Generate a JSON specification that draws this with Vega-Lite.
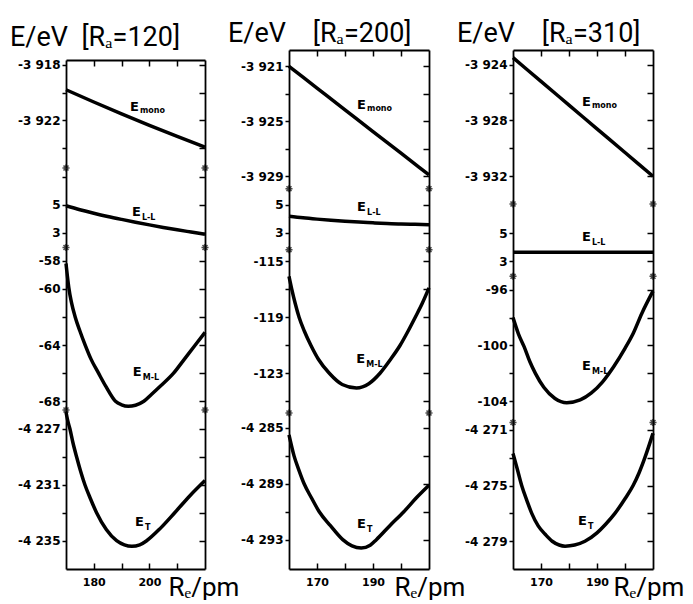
{
  "$schema": "https://vega.github.io/schema/vega-lite/v6.json",
  "background": "white",
  "padding": {"left": 10, "top": 20, "right": 0, "bottom": 0},
  "config": {
    "view": {"stroke": null},
    "axis": {"domainColor": "black", "domainWidth": 1.8, "tickColor": "black", "tickWidth": 1.5, "labelColor": "black", "labelFont": "DejaVu Sans", "labelFontSize": 12, "labelFontWeight": "bold", "grid": false},
    "axisLeft": {"tickSize": 4, "labelPadding": 2},
    "axisRight": {"tickSize": -6, "labels": false},
    "axisTop": {"tickSize": -6, "labels": false},
    "axisBottom": {"tickSize": -6, "labelPadding": 13, "labelFontSize": 11}
  },
  "datasets": {
    "one": [{}],
    "p1_mono": [{"R":170,"E":-3919.8},{"R":180,"E":-3920.68},{"R":190,"E":-3921.53},{"R":200,"E":-3922.36},{"R":210,"E":-3923.16},{"R":220,"E":-3923.93}],
    "p1_ll": [{"R":170,"E":4.93},{"R":175,"E":4.65},{"R":180,"E":4.4},{"R":185,"E":4.17},{"R":190,"E":3.96},{"R":195,"E":3.76},{"R":200,"E":3.57},{"R":205,"E":3.39},{"R":210,"E":3.22},{"R":215,"E":3.06},{"R":220,"E":2.9}],
    "p1_ml": [{"R":170,"E":-58.2},{"R":170.5,"E":-59.1},{"R":171,"E":-59.9},{"R":172,"E":-61},{"R":173.3,"E":-62},{"R":175,"E":-63},{"R":176.9,"E":-64},{"R":179,"E":-65},{"R":181.7,"E":-66},{"R":184.5,"E":-67},{"R":187.8,"E":-68},{"R":190,"E":-68.25},{"R":192.4,"E":-68.35},{"R":195,"E":-68.28},{"R":198,"E":-68},{"R":200.8,"E":-67.5},{"R":203.5,"E":-67},{"R":208.7,"E":-66},{"R":212.6,"E":-65},{"R":216.5,"E":-64},{"R":220,"E":-63.1}],
    "p1_t": [{"R":170,"E":-4225.8},{"R":170.6,"E":-4226.4},{"R":171.4,"E":-4227},{"R":172.5,"E":-4228},{"R":173.8,"E":-4229},{"R":175.2,"E":-4230},{"R":176.8,"E":-4231},{"R":178.8,"E":-4232},{"R":181,"E":-4233},{"R":184.5,"E":-4234.2},{"R":188.2,"E":-4235},{"R":191,"E":-4235.3},{"R":193.7,"E":-4235.4},{"R":196.5,"E":-4235.3},{"R":199,"E":-4235},{"R":204,"E":-4234.1},{"R":209.1,"E":-4233},{"R":214.5,"E":-4231.8},{"R":220,"E":-4230.7}],
    "p2_mono": [{"R":160,"E":-3921.0},{"R":170,"E":-3922.58},{"R":180,"E":-3924.16},{"R":190,"E":-3925.74},{"R":200,"E":-3927.32},{"R":210,"E":-3928.9}],
    "p2_ll": [{"R":160,"E":4.18},{"R":165,"E":4.07},{"R":170,"E":3.98},{"R":175,"E":3.9},{"R":180,"E":3.83},{"R":185,"E":3.77},{"R":190,"E":3.72},{"R":195,"E":3.67},{"R":200,"E":3.63},{"R":205,"E":3.61},{"R":210,"E":3.59}],
    "p2_ml": [{"R":160,"E":-116.07},{"R":161,"E":-117},{"R":162.2,"E":-118},{"R":163.6,"E":-119},{"R":165.5,"E":-120},{"R":167.8,"E":-121},{"R":170.5,"E":-122},{"R":174.4,"E":-123},{"R":179,"E":-123.8},{"R":184.1,"E":-124.05},{"R":188.5,"E":-123.75},{"R":192.5,"E":-123},{"R":196.3,"E":-122},{"R":199.7,"E":-121},{"R":202.5,"E":-120},{"R":205.1,"E":-119},{"R":207.6,"E":-118},{"R":210,"E":-116.9}],
    "p2_t": [{"R":160,"E":-4285.5},{"R":161.8,"E":-4287},{"R":163.5,"E":-4288},{"R":165.4,"E":-4289},{"R":168,"E":-4290},{"R":170.8,"E":-4291},{"R":174.8,"E":-4292},{"R":179.2,"E":-4293},{"R":182.5,"E":-4293.45},{"R":185.8,"E":-4293.6},{"R":189,"E":-4293.4},{"R":191.2,"E":-4293},{"R":196,"E":-4292},{"R":201,"E":-4291},{"R":205.5,"E":-4290},{"R":210,"E":-4289.1}],
    "p3_mono": [{"R":160,"E":-3923.5},{"R":170,"E":-3925.2},{"R":180,"E":-3926.9},{"R":190,"E":-3928.6},{"R":200,"E":-3930.3},{"R":210,"E":-3932.0}],
    "p3_ll": [{"R":160,"E":3.64},{"R":185,"E":3.64},{"R":210,"E":3.64}],
    "p3_ml": [{"R":160,"E":-98.0},{"R":162,"E":-99.2},{"R":164,"E":-100.1},{"R":166,"E":-101.15},{"R":168,"E":-102.0},{"R":171,"E":-103.0},{"R":175,"E":-103.8},{"R":179.2,"E":-104.1},{"R":184,"E":-103.9},{"R":188,"E":-103.4},{"R":192,"E":-102.6},{"R":196,"E":-101.5},{"R":200,"E":-100.2},{"R":203,"E":-99.1},{"R":206,"E":-97.7},{"R":210,"E":-96.1}],
    "p3_t": [{"R":160,"E":-4272.7},{"R":161.5,"E":-4273.8},{"R":163.1,"E":-4275.0},{"R":165,"E":-4276.1},{"R":166.7,"E":-4277.0},{"R":169,"E":-4277.9},{"R":171.5,"E":-4278.5},{"R":174,"E":-4279.0},{"R":176.5,"E":-4279.27},{"R":178.6,"E":-4279.35},{"R":182,"E":-4279.27},{"R":185.7,"E":-4279.0},{"R":190,"E":-4278.4},{"R":193,"E":-4277.8},{"R":196.4,"E":-4277.0},{"R":200,"E":-4275.95},{"R":202.9,"E":-4275.0},{"R":205,"E":-4274.1},{"R":207.1,"E":-4273.0},{"R":210,"E":-4271.25}]
  },
  "spacing": 84,
  "bounds": "flush",
  "hconcat": [
    {
      "width": 139, "height": 519,
      "title": {"text": "E/eV\u00a0\u00a0[R\u2090=120]", "anchor": "start", "frame": "group", "dx": -56, "dy": 3, "font": "Roboto", "fontSize": 27, "fontWeight": "normal", "color": "black", "baseline": "alphabetic", "offset": -20},
      "resolve": {"scale": {"x": "independent", "y": "independent"}},
      "layer": [
        {"data": {"name": "p1_mono"}, "mark": {"type": "line", "color": "black", "strokeWidth": 3.5, "interpolate": "monotone"},
         "encoding": {
           "x": {"field": "R", "type": "quantitative", "scale": {"domain": [170, 220], "nice": false, "zero": false}, "axis": {"orient": "top", "values": [180, 190, 200, 210], "labels": false, "tickSize": -6, "offset": -10, "title": null}},
           "y": {"field": "E", "type": "quantitative", "scale": {"domain": [-3925.43, -3917.66], "range": [118, 10], "nice": false, "zero": false}, "axis": {"orient": "left", "values": [-3918, -3920, -3922, -3924], "title": null, "labelExpr": "indexof([-3918,-3922], datum.value) >= 0 ? '-' + floor(abs(datum.value)/1000) + ' ' + substring(toString(abs(datum.value)), 1) : ''"}}}},
        {"data": {"name": "p1_mono"}, "mark": {"type": "point", "opacity": 0},
         "encoding": {
           "x": {"field": "R", "type": "quantitative", "scale": {"domain": [170, 220], "nice": false, "zero": false}, "axis": null},
           "y": {"field": "E", "type": "quantitative", "scale": {"domain": [-3925.43, -3917.66], "range": [118, 10], "nice": false, "zero": false}, "axis": {"orient": "right", "values": [-3918, -3920, -3922, -3924], "labels": false, "tickSize": -6, "title": null}}}},
        {"data": {"name": "one"}, "mark": {"type": "point", "shape": "M-1,0L1,0M0,-1L0,1M-0.7,-0.7L0.7,0.7M-0.7,0.7L0.7,-0.7", "size": 50, "filled": false, "stroke": "black", "strokeWidth": 1.6},
         "encoding": {"x": {"datum": 170, "type": "quantitative", "scale": {"domain": [170, 220], "nice": false, "zero": false}, "axis": null}, "y": {"datum": -3925.43, "type": "quantitative", "scale": {"domain": [-3925.43, -3917.66], "range": [118, 10], "nice": false, "zero": false}, "axis": null}}},
        {"data": {"name": "one"}, "mark": {"type": "point", "shape": "M-1,0L1,0M0,-1L0,1M-0.7,-0.7L0.7,0.7M-0.7,0.7L0.7,-0.7", "size": 50, "filled": false, "stroke": "black", "strokeWidth": 1.6},
         "encoding": {"x": {"datum": 220, "type": "quantitative", "scale": {"domain": [170, 220], "nice": false, "zero": false}, "axis": null}, "y": {"datum": -3925.43, "type": "quantitative", "scale": {"domain": [-3925.43, -3917.66], "range": [118, 10], "nice": false, "zero": false}, "axis": null}}},
        {"data": {"name": "one"}, "mark": {"type": "text", "text": "E", "font": "DejaVu Sans", "fontSize": 13, "fontWeight": "bold", "align": "left", "baseline": "alphabetic"},
         "encoding": {"x": {"datum": 193, "type": "quantitative", "scale": {"domain": [170, 220], "nice": false, "zero": false}, "axis": null}, "y": {"datum": -3921.3, "type": "quantitative", "scale": {"domain": [-3925.43, -3917.66], "range": [118, 10], "nice": false, "zero": false}, "axis": null}}},
        {"data": {"name": "one"}, "mark": {"type": "text", "text": "mono", "font": "DejaVu Sans", "fontSize": 8, "fontWeight": "bold", "align": "left", "baseline": "alphabetic", "dx": 10, "dy": 2},
         "encoding": {"x": {"datum": 193, "type": "quantitative", "scale": {"domain": [170, 220], "nice": false, "zero": false}, "axis": null}, "y": {"datum": -3921.3, "type": "quantitative", "scale": {"domain": [-3925.43, -3917.66], "range": [118, 10], "nice": false, "zero": false}, "axis": null}}},

        {"data": {"name": "p1_ll"}, "mark": {"type": "line", "color": "black", "strokeWidth": 3.5, "interpolate": "monotone"},
         "encoding": {
           "x": {"field": "R", "type": "quantitative", "scale": {"domain": [170, 220], "nice": false, "zero": false}, "axis": null},
           "y": {"field": "E", "type": "quantitative", "scale": {"domain": [1.96, 7.62], "range": [197.5, 118], "nice": false, "zero": false}, "axis": {"orient": "left", "values": [3, 5, 7], "title": null, "labelExpr": "indexof([3,5], datum.value) >= 0 ? toString(datum.value) : ''"}}}},
        {"data": {"name": "p1_ll"}, "mark": {"type": "point", "opacity": 0},
         "encoding": {
           "x": {"field": "R", "type": "quantitative", "scale": {"domain": [170, 220], "nice": false, "zero": false}, "axis": null},
           "y": {"field": "E", "type": "quantitative", "scale": {"domain": [1.96, 7.62], "range": [197.5, 118], "nice": false, "zero": false}, "axis": {"orient": "right", "values": [3, 5, 7], "labels": false, "tickSize": -6, "title": null}}}},
        {"data": {"name": "one"}, "mark": {"type": "point", "shape": "M-1,0L1,0M0,-1L0,1M-0.7,-0.7L0.7,0.7M-0.7,0.7L0.7,-0.7", "size": 50, "filled": false, "stroke": "black", "strokeWidth": 1.6},
         "encoding": {"x": {"datum": 170, "type": "quantitative", "scale": {"domain": [170, 220], "nice": false, "zero": false}, "axis": null}, "y": {"datum": 1.96, "type": "quantitative", "scale": {"domain": [1.96, 7.62], "range": [197.5, 118], "nice": false, "zero": false}, "axis": null}}},
        {"data": {"name": "one"}, "mark": {"type": "point", "shape": "M-1,0L1,0M0,-1L0,1M-0.7,-0.7L0.7,0.7M-0.7,0.7L0.7,-0.7", "size": 50, "filled": false, "stroke": "black", "strokeWidth": 1.6},
         "encoding": {"x": {"datum": 220, "type": "quantitative", "scale": {"domain": [170, 220], "nice": false, "zero": false}, "axis": null}, "y": {"datum": 1.96, "type": "quantitative", "scale": {"domain": [1.96, 7.62], "range": [197.5, 118], "nice": false, "zero": false}, "axis": null}}},
        {"data": {"name": "one"}, "mark": {"type": "text", "text": "E", "font": "DejaVu Sans", "fontSize": 13, "fontWeight": "bold", "align": "left", "baseline": "alphabetic"},
         "encoding": {"x": {"datum": 193.7, "type": "quantitative", "scale": {"domain": [170, 220], "nice": false, "zero": false}, "axis": null}, "y": {"datum": 4.2, "type": "quantitative", "scale": {"domain": [1.96, 7.62], "range": [197.5, 118], "nice": false, "zero": false}, "axis": null}}},
        {"data": {"name": "one"}, "mark": {"type": "text", "text": "L-L", "font": "DejaVu Sans", "fontSize": 8, "fontWeight": "bold", "align": "left", "baseline": "alphabetic", "dx": 10, "dy": 4},
         "encoding": {"x": {"datum": 193.7, "type": "quantitative", "scale": {"domain": [170, 220], "nice": false, "zero": false}, "axis": null}, "y": {"datum": 4.2, "type": "quantitative", "scale": {"domain": [1.96, 7.62], "range": [197.5, 118], "nice": false, "zero": false}, "axis": null}}},

        {"data": {"name": "p1_ml"}, "mark": {"type": "line", "color": "black", "strokeWidth": 3.5, "interpolate": "monotone"},
         "encoding": {
           "x": {"field": "R", "type": "quantitative", "scale": {"domain": [170, 220], "nice": false, "zero": false}, "axis": null},
           "y": {"field": "E", "type": "quantitative", "scale": {"domain": [-68.62, -57.06], "range": [360, 197.5], "nice": false, "zero": false}, "axis": {"orient": "left", "values": [-58, -60, -62, -64, -66, -68], "title": null, "labelExpr": "indexof([-58,-60,-64,-68], datum.value) >= 0 ? toString(datum.value) : ''"}}}},
        {"data": {"name": "p1_ml"}, "mark": {"type": "point", "opacity": 0},
         "encoding": {
           "x": {"field": "R", "type": "quantitative", "scale": {"domain": [170, 220], "nice": false, "zero": false}, "axis": null},
           "y": {"field": "E", "type": "quantitative", "scale": {"domain": [-68.62, -57.06], "range": [360, 197.5], "nice": false, "zero": false}, "axis": {"orient": "right", "values": [-58, -60, -62, -64, -66, -68], "labels": false, "tickSize": -6, "title": null}}}},
        {"data": {"name": "one"}, "mark": {"type": "point", "shape": "M-1,0L1,0M0,-1L0,1M-0.7,-0.7L0.7,0.7M-0.7,0.7L0.7,-0.7", "size": 50, "filled": false, "stroke": "black", "strokeWidth": 1.6},
         "encoding": {"x": {"datum": 170, "type": "quantitative", "scale": {"domain": [170, 220], "nice": false, "zero": false}, "axis": null}, "y": {"datum": -68.62, "type": "quantitative", "scale": {"domain": [-68.62, -57.06], "range": [360, 197.5], "nice": false, "zero": false}, "axis": null}}},
        {"data": {"name": "one"}, "mark": {"type": "point", "shape": "M-1,0L1,0M0,-1L0,1M-0.7,-0.7L0.7,0.7M-0.7,0.7L0.7,-0.7", "size": 50, "filled": false, "stroke": "black", "strokeWidth": 1.6},
         "encoding": {"x": {"datum": 220, "type": "quantitative", "scale": {"domain": [170, 220], "nice": false, "zero": false}, "axis": null}, "y": {"datum": -68.62, "type": "quantitative", "scale": {"domain": [-68.62, -57.06], "range": [360, 197.5], "nice": false, "zero": false}, "axis": null}}},
        {"data": {"name": "one"}, "mark": {"type": "text", "text": "E", "font": "DejaVu Sans", "fontSize": 13, "fontWeight": "bold", "align": "left", "baseline": "alphabetic"},
         "encoding": {"x": {"datum": 194, "type": "quantitative", "scale": {"domain": [170, 220], "nice": false, "zero": false}, "axis": null}, "y": {"datum": -66.2, "type": "quantitative", "scale": {"domain": [-68.62, -57.06], "range": [360, 197.5], "nice": false, "zero": false}, "axis": null}}},
        {"data": {"name": "one"}, "mark": {"type": "text", "text": "M-L", "font": "DejaVu Sans", "fontSize": 8, "fontWeight": "bold", "align": "left", "baseline": "alphabetic", "dx": 10, "dy": 4},
         "encoding": {"x": {"datum": 194, "type": "quantitative", "scale": {"domain": [170, 220], "nice": false, "zero": false}, "axis": null}, "y": {"datum": -66.2, "type": "quantitative", "scale": {"domain": [-68.62, -57.06], "range": [360, 197.5], "nice": false, "zero": false}, "axis": null}}},

        {"data": {"name": "p1_t"}, "mark": {"type": "line", "color": "black", "strokeWidth": 3.5, "interpolate": "monotone"},
         "encoding": {
           "x": {"field": "R", "type": "quantitative", "scale": {"domain": [170, 220], "nice": false, "zero": false}, "axis": {"orient": "bottom", "values": [180, 190, 200, 210], "tickSize": -6, "labelExpr": "indexof([180,200], datum.value) >= 0 ? toString(datum.value) : ''", "title": "R\u2091/pm", "titleX": 102, "titleY": 26, "titleAlign": "left", "titleBaseline": "alphabetic", "titleFont": "Roboto", "titleFontSize": 26, "titleFontWeight": "normal", "titleColor": "black"}},
           "y": {"field": "E", "type": "quantitative", "scale": {"domain": [-4237.02, -4225.66], "range": [519, 360], "nice": false, "zero": false}, "axis": {"orient": "left", "values": [-4227, -4229, -4231, -4233, -4235], "title": null, "labelExpr": "indexof([-4227,-4231,-4235], datum.value) >= 0 ? '-' + floor(abs(datum.value)/1000) + ' ' + substring(toString(abs(datum.value)), 1) : ''"}}}},
        {"data": {"name": "p1_t"}, "mark": {"type": "point", "opacity": 0},
         "encoding": {
           "x": {"field": "R", "type": "quantitative", "scale": {"domain": [170, 220], "nice": false, "zero": false}, "axis": null},
           "y": {"field": "E", "type": "quantitative", "scale": {"domain": [-4237.02, -4225.66], "range": [519, 360], "nice": false, "zero": false}, "axis": {"orient": "right", "values": [-4227, -4229, -4231, -4233, -4235], "labels": false, "tickSize": -6, "title": null}}}},
        {"data": {"name": "one"}, "mark": {"type": "text", "text": "E", "font": "DejaVu Sans", "fontSize": 13, "fontWeight": "bold", "align": "left", "baseline": "alphabetic"},
         "encoding": {"x": {"datum": 194.8, "type": "quantitative", "scale": {"domain": [170, 220], "nice": false, "zero": false}, "axis": null}, "y": {"datum": -4233.95, "type": "quantitative", "scale": {"domain": [-4237.02, -4225.66], "range": [519, 360], "nice": false, "zero": false}, "axis": null}}},
        {"data": {"name": "one"}, "mark": {"type": "text", "text": "T", "font": "DejaVu Sans", "fontSize": 8, "fontWeight": "bold", "align": "left", "baseline": "alphabetic", "dx": 10, "dy": 4},
         "encoding": {"x": {"datum": 194.8, "type": "quantitative", "scale": {"domain": [170, 220], "nice": false, "zero": false}, "axis": null}, "y": {"datum": -4233.95, "type": "quantitative", "scale": {"domain": [-4237.02, -4225.66], "range": [519, 360], "nice": false, "zero": false}, "axis": null}}}
      ]
    },
    {
      "width": 140, "height": 519,
      "title": {"text": "E/eV\u00a0\u00a0\u00a0\u00a0[R\u2090=200]", "anchor": "start", "frame": "group", "dx": -61, "font": "Roboto", "fontSize": 27, "fontWeight": "normal", "color": "black", "baseline": "alphabetic", "offset": -20},
      "resolve": {"scale": {"x": "independent", "y": "independent"}},
      "layer": [
        {"data": {"name": "p2_mono"}, "mark": {"type": "line", "color": "black", "strokeWidth": 3.5, "interpolate": "monotone"},
         "encoding": {
           "x": {"field": "R", "type": "quantitative", "scale": {"domain": [160, 210], "nice": false, "zero": false}, "axis": {"orient": "top", "values": [170, 180, 190, 200], "labels": false, "tickSize": -6, "title": null}},
           "y": {"field": "E", "type": "quantitative", "scale": {"domain": [-3929.9, -3919.81], "range": [138.7, 0], "nice": false, "zero": false}, "axis": {"orient": "left", "values": [-3921, -3923, -3925, -3927, -3929], "title": null, "labelExpr": "indexof([-3921,-3925,-3929], datum.value) >= 0 ? '-' + floor(abs(datum.value)/1000) + ' ' + substring(toString(abs(datum.value)), 1) : ''"}}}},
        {"data": {"name": "p2_mono"}, "mark": {"type": "point", "opacity": 0},
         "encoding": {
           "x": {"field": "R", "type": "quantitative", "scale": {"domain": [160, 210], "nice": false, "zero": false}, "axis": null},
           "y": {"field": "E", "type": "quantitative", "scale": {"domain": [-3929.9, -3919.81], "range": [138.7, 0], "nice": false, "zero": false}, "axis": {"orient": "right", "values": [-3921, -3923, -3925, -3927, -3929], "labels": false, "tickSize": -6, "title": null}}}},
        {"data": {"name": "one"}, "mark": {"type": "point", "shape": "M-1,0L1,0M0,-1L0,1M-0.7,-0.7L0.7,0.7M-0.7,0.7L0.7,-0.7", "size": 50, "filled": false, "stroke": "black", "strokeWidth": 1.6},
         "encoding": {"x": {"datum": 160, "type": "quantitative", "scale": {"domain": [160, 210], "nice": false, "zero": false}, "axis": null}, "y": {"datum": -3929.9, "type": "quantitative", "scale": {"domain": [-3929.9, -3919.81], "range": [138.7, 0], "nice": false, "zero": false}, "axis": null}}},
        {"data": {"name": "one"}, "mark": {"type": "point", "shape": "M-1,0L1,0M0,-1L0,1M-0.7,-0.7L0.7,0.7M-0.7,0.7L0.7,-0.7", "size": 50, "filled": false, "stroke": "black", "strokeWidth": 1.6},
         "encoding": {"x": {"datum": 210, "type": "quantitative", "scale": {"domain": [160, 210], "nice": false, "zero": false}, "axis": null}, "y": {"datum": -3929.9, "type": "quantitative", "scale": {"domain": [-3929.9, -3919.81], "range": [138.7, 0], "nice": false, "zero": false}, "axis": null}}},
        {"data": {"name": "one"}, "mark": {"type": "text", "text": "E", "font": "DejaVu Sans", "fontSize": 13, "fontWeight": "bold", "align": "left", "baseline": "alphabetic"},
         "encoding": {"x": {"datum": 184.3, "type": "quantitative", "scale": {"domain": [160, 210], "nice": false, "zero": false}, "axis": null}, "y": {"datum": -3924.1, "type": "quantitative", "scale": {"domain": [-3929.9, -3919.81], "range": [138.7, 0], "nice": false, "zero": false}, "axis": null}}},
        {"data": {"name": "one"}, "mark": {"type": "text", "text": "mono", "font": "DejaVu Sans", "fontSize": 8, "fontWeight": "bold", "align": "left", "baseline": "alphabetic", "dx": 10, "dy": 2},
         "encoding": {"x": {"datum": 184.3, "type": "quantitative", "scale": {"domain": [160, 210], "nice": false, "zero": false}, "axis": null}, "y": {"datum": -3924.1, "type": "quantitative", "scale": {"domain": [-3929.9, -3919.81], "range": [138.7, 0], "nice": false, "zero": false}, "axis": null}}},

        {"data": {"name": "p2_ll"}, "mark": {"type": "line", "color": "black", "strokeWidth": 3.5, "interpolate": "monotone"},
         "encoding": {
           "x": {"field": "R", "type": "quantitative", "scale": {"domain": [160, 210], "nice": false, "zero": false}, "axis": null},
           "y": {"field": "E", "type": "quantitative", "scale": {"domain": [1.82, 6.13], "range": [199.7, 138.7], "nice": false, "zero": false}, "axis": {"orient": "left", "values": [3, 5], "title": null}}}},
        {"data": {"name": "p2_ll"}, "mark": {"type": "point", "opacity": 0},
         "encoding": {
           "x": {"field": "R", "type": "quantitative", "scale": {"domain": [160, 210], "nice": false, "zero": false}, "axis": null},
           "y": {"field": "E", "type": "quantitative", "scale": {"domain": [1.82, 6.13], "range": [199.7, 138.7], "nice": false, "zero": false}, "axis": {"orient": "right", "values": [3, 5], "labels": false, "tickSize": -6, "title": null}}}},
        {"data": {"name": "one"}, "mark": {"type": "point", "shape": "M-1,0L1,0M0,-1L0,1M-0.7,-0.7L0.7,0.7M-0.7,0.7L0.7,-0.7", "size": 50, "filled": false, "stroke": "black", "strokeWidth": 1.6},
         "encoding": {"x": {"datum": 160, "type": "quantitative", "scale": {"domain": [160, 210], "nice": false, "zero": false}, "axis": null}, "y": {"datum": 1.82, "type": "quantitative", "scale": {"domain": [1.82, 6.13], "range": [199.7, 138.7], "nice": false, "zero": false}, "axis": null}}},
        {"data": {"name": "one"}, "mark": {"type": "point", "shape": "M-1,0L1,0M0,-1L0,1M-0.7,-0.7L0.7,0.7M-0.7,0.7L0.7,-0.7", "size": 50, "filled": false, "stroke": "black", "strokeWidth": 1.6},
         "encoding": {"x": {"datum": 210, "type": "quantitative", "scale": {"domain": [160, 210], "nice": false, "zero": false}, "axis": null}, "y": {"datum": 1.82, "type": "quantitative", "scale": {"domain": [1.82, 6.13], "range": [199.7, 138.7], "nice": false, "zero": false}, "axis": null}}},
        {"data": {"name": "one"}, "mark": {"type": "text", "text": "E", "font": "DejaVu Sans", "fontSize": 13, "fontWeight": "bold", "align": "left", "baseline": "alphabetic"},
         "encoding": {"x": {"datum": 184.3, "type": "quantitative", "scale": {"domain": [160, 210], "nice": false, "zero": false}, "axis": null}, "y": {"datum": 4.55, "type": "quantitative", "scale": {"domain": [1.82, 6.13], "range": [199.7, 138.7], "nice": false, "zero": false}, "axis": null}}},
        {"data": {"name": "one"}, "mark": {"type": "text", "text": "L-L", "font": "DejaVu Sans", "fontSize": 8, "fontWeight": "bold", "align": "left", "baseline": "alphabetic", "dx": 10, "dy": 4},
         "encoding": {"x": {"datum": 184.3, "type": "quantitative", "scale": {"domain": [160, 210], "nice": false, "zero": false}, "axis": null}, "y": {"datum": 4.55, "type": "quantitative", "scale": {"domain": [1.82, 6.13], "range": [199.7, 138.7], "nice": false, "zero": false}, "axis": null}}},

        {"data": {"name": "p2_ml"}, "mark": {"type": "line", "color": "black", "strokeWidth": 3.5, "interpolate": "monotone"},
         "encoding": {
           "x": {"field": "R", "type": "quantitative", "scale": {"domain": [160, 210], "nice": false, "zero": false}, "axis": null},
           "y": {"field": "E", "type": "quantitative", "scale": {"domain": [-125.84, -114.17], "range": [363, 199.7], "nice": false, "zero": false}, "axis": {"orient": "left", "values": [-115, -117, -119, -121, -123, -125], "title": null, "labelExpr": "indexof([-115,-119,-123], datum.value) >= 0 ? toString(datum.value) : ''"}}}},
        {"data": {"name": "p2_ml"}, "mark": {"type": "point", "opacity": 0},
         "encoding": {
           "x": {"field": "R", "type": "quantitative", "scale": {"domain": [160, 210], "nice": false, "zero": false}, "axis": null},
           "y": {"field": "E", "type": "quantitative", "scale": {"domain": [-125.84, -114.17], "range": [363, 199.7], "nice": false, "zero": false}, "axis": {"orient": "right", "values": [-115, -117, -119, -121, -123, -125], "labels": false, "tickSize": -6, "title": null}}}},
        {"data": {"name": "one"}, "mark": {"type": "point", "shape": "M-1,0L1,0M0,-1L0,1M-0.7,-0.7L0.7,0.7M-0.7,0.7L0.7,-0.7", "size": 50, "filled": false, "stroke": "black", "strokeWidth": 1.6},
         "encoding": {"x": {"datum": 160, "type": "quantitative", "scale": {"domain": [160, 210], "nice": false, "zero": false}, "axis": null}, "y": {"datum": -125.84, "type": "quantitative", "scale": {"domain": [-125.84, -114.17], "range": [363, 199.7], "nice": false, "zero": false}, "axis": null}}},
        {"data": {"name": "one"}, "mark": {"type": "point", "shape": "M-1,0L1,0M0,-1L0,1M-0.7,-0.7L0.7,0.7M-0.7,0.7L0.7,-0.7", "size": 50, "filled": false, "stroke": "black", "strokeWidth": 1.6},
         "encoding": {"x": {"datum": 210, "type": "quantitative", "scale": {"domain": [160, 210], "nice": false, "zero": false}, "axis": null}, "y": {"datum": -125.84, "type": "quantitative", "scale": {"domain": [-125.84, -114.17], "range": [363, 199.7], "nice": false, "zero": false}, "axis": null}}},
        {"data": {"name": "one"}, "mark": {"type": "text", "text": "E", "font": "DejaVu Sans", "fontSize": 13, "fontWeight": "bold", "align": "left", "baseline": "alphabetic"},
         "encoding": {"x": {"datum": 184, "type": "quantitative", "scale": {"domain": [160, 210], "nice": false, "zero": false}, "axis": null}, "y": {"datum": -122.26, "type": "quantitative", "scale": {"domain": [-125.84, -114.17], "range": [363, 199.7], "nice": false, "zero": false}, "axis": null}}},
        {"data": {"name": "one"}, "mark": {"type": "text", "text": "M-L", "font": "DejaVu Sans", "fontSize": 8, "fontWeight": "bold", "align": "left", "baseline": "alphabetic", "dx": 10, "dy": 4},
         "encoding": {"x": {"datum": 184, "type": "quantitative", "scale": {"domain": [160, 210], "nice": false, "zero": false}, "axis": null}, "y": {"datum": -122.26, "type": "quantitative", "scale": {"domain": [-125.84, -114.17], "range": [363, 199.7], "nice": false, "zero": false}, "axis": null}}},

        {"data": {"name": "p2_t"}, "mark": {"type": "line", "color": "black", "strokeWidth": 3.5, "interpolate": "monotone"},
         "encoding": {
           "x": {"field": "R", "type": "quantitative", "scale": {"domain": [160, 210], "nice": false, "zero": false}, "axis": {"orient": "bottom", "values": [170, 180, 190, 200], "tickSize": -6, "labelExpr": "indexof([170,190], datum.value) >= 0 ? toString(datum.value) : ''", "title": "R\u2091/pm", "titleX": 105, "titleY": 26, "titleAlign": "left", "titleBaseline": "alphabetic", "titleFont": "Roboto", "titleFontSize": 26, "titleFontWeight": "normal", "titleColor": "black"}},
           "y": {"field": "E", "type": "quantitative", "scale": {"domain": [-4295.1, -4283.93], "range": [519, 363], "nice": false, "zero": false}, "axis": {"orient": "left", "values": [-4285, -4287, -4289, -4291, -4293], "title": null, "labelExpr": "indexof([-4285,-4289,-4293], datum.value) >= 0 ? '-' + floor(abs(datum.value)/1000) + ' ' + substring(toString(abs(datum.value)), 1) : ''"}}}},
        {"data": {"name": "p2_t"}, "mark": {"type": "point", "opacity": 0},
         "encoding": {
           "x": {"field": "R", "type": "quantitative", "scale": {"domain": [160, 210], "nice": false, "zero": false}, "axis": null},
           "y": {"field": "E", "type": "quantitative", "scale": {"domain": [-4295.1, -4283.93], "range": [519, 363], "nice": false, "zero": false}, "axis": {"orient": "right", "values": [-4285, -4287, -4289, -4291, -4293], "labels": false, "tickSize": -6, "title": null}}}},
        {"data": {"name": "one"}, "mark": {"type": "text", "text": "E", "font": "DejaVu Sans", "fontSize": 13, "fontWeight": "bold", "align": "left", "baseline": "alphabetic"},
         "encoding": {"x": {"datum": 184.3, "type": "quantitative", "scale": {"domain": [160, 210], "nice": false, "zero": false}, "axis": null}, "y": {"datum": -4292.16, "type": "quantitative", "scale": {"domain": [-4295.1, -4283.93], "range": [519, 363], "nice": false, "zero": false}, "axis": null}}},
        {"data": {"name": "one"}, "mark": {"type": "text", "text": "T", "font": "DejaVu Sans", "fontSize": 8, "fontWeight": "bold", "align": "left", "baseline": "alphabetic", "dx": 10, "dy": 4},
         "encoding": {"x": {"datum": 184.3, "type": "quantitative", "scale": {"domain": [160, 210], "nice": false, "zero": false}, "axis": null}, "y": {"datum": -4292.16, "type": "quantitative", "scale": {"domain": [-4295.1, -4283.93], "range": [519, 363], "nice": false, "zero": false}, "axis": null}}}
      ]
    },
    {
      "width": 140, "height": 519,
      "title": {"text": "E/eV\u00a0\u00a0\u00a0\u00a0[R\u2090=310]", "anchor": "start", "frame": "group", "dx": -56, "font": "Roboto", "fontSize": 27, "fontWeight": "normal", "color": "black", "baseline": "alphabetic", "offset": -20},
      "resolve": {"scale": {"x": "independent", "y": "independent"}},
      "layer": [
        {"data": {"name": "p3_mono"}, "mark": {"type": "line", "color": "black", "strokeWidth": 3.5, "interpolate": "monotone"},
         "encoding": {
           "x": {"field": "R", "type": "quantitative", "scale": {"domain": [160, 210], "nice": false, "zero": false}, "axis": {"orient": "top", "values": [170, 180, 190, 200], "labels": false, "tickSize": -6, "title": null}},
           "y": {"field": "E", "type": "quantitative", "scale": {"domain": [-3933.99, -3922.95], "range": [154, 0], "nice": false, "zero": false}, "axis": {"orient": "left", "values": [-3924, -3926, -3928, -3930, -3932], "title": null, "labelExpr": "indexof([-3924,-3928,-3932], datum.value) >= 0 ? '-' + floor(abs(datum.value)/1000) + ' ' + substring(toString(abs(datum.value)), 1) : ''"}}}},
        {"data": {"name": "p3_mono"}, "mark": {"type": "point", "opacity": 0},
         "encoding": {
           "x": {"field": "R", "type": "quantitative", "scale": {"domain": [160, 210], "nice": false, "zero": false}, "axis": null},
           "y": {"field": "E", "type": "quantitative", "scale": {"domain": [-3933.99, -3922.95], "range": [154, 0], "nice": false, "zero": false}, "axis": {"orient": "right", "values": [-3924, -3926, -3928, -3930, -3932], "labels": false, "tickSize": -6, "title": null}}}},
        {"data": {"name": "one"}, "mark": {"type": "point", "shape": "M-1,0L1,0M0,-1L0,1M-0.7,-0.7L0.7,0.7M-0.7,0.7L0.7,-0.7", "size": 50, "filled": false, "stroke": "black", "strokeWidth": 1.6},
         "encoding": {"x": {"datum": 160, "type": "quantitative", "scale": {"domain": [160, 210], "nice": false, "zero": false}, "axis": null}, "y": {"datum": -3933.99, "type": "quantitative", "scale": {"domain": [-3933.99, -3922.95], "range": [154, 0], "nice": false, "zero": false}, "axis": null}}},
        {"data": {"name": "one"}, "mark": {"type": "point", "shape": "M-1,0L1,0M0,-1L0,1M-0.7,-0.7L0.7,0.7M-0.7,0.7L0.7,-0.7", "size": 50, "filled": false, "stroke": "black", "strokeWidth": 1.6},
         "encoding": {"x": {"datum": 210, "type": "quantitative", "scale": {"domain": [160, 210], "nice": false, "zero": false}, "axis": null}, "y": {"datum": -3933.99, "type": "quantitative", "scale": {"domain": [-3933.99, -3922.95], "range": [154, 0], "nice": false, "zero": false}, "axis": null}}},
        {"data": {"name": "one"}, "mark": {"type": "text", "text": "E", "font": "DejaVu Sans", "fontSize": 13, "fontWeight": "bold", "align": "left", "baseline": "alphabetic"},
         "encoding": {"x": {"datum": 184.6, "type": "quantitative", "scale": {"domain": [160, 210], "nice": false, "zero": false}, "axis": null}, "y": {"datum": -3926.96, "type": "quantitative", "scale": {"domain": [-3933.99, -3922.95], "range": [154, 0], "nice": false, "zero": false}, "axis": null}}},
        {"data": {"name": "one"}, "mark": {"type": "text", "text": "mono", "font": "DejaVu Sans", "fontSize": 8, "fontWeight": "bold", "align": "left", "baseline": "alphabetic", "dx": 10, "dy": 2},
         "encoding": {"x": {"datum": 184.6, "type": "quantitative", "scale": {"domain": [160, 210], "nice": false, "zero": false}, "axis": null}, "y": {"datum": -3926.96, "type": "quantitative", "scale": {"domain": [-3933.99, -3922.95], "range": [154, 0], "nice": false, "zero": false}, "axis": null}}},

        {"data": {"name": "p3_ll"}, "mark": {"type": "line", "color": "black", "strokeWidth": 3.5, "interpolate": "monotone"},
         "encoding": {
           "x": {"field": "R", "type": "quantitative", "scale": {"domain": [160, 210], "nice": false, "zero": false}, "axis": null},
           "y": {"field": "E", "type": "quantitative", "scale": {"domain": [1.94, 7.05], "range": [226.3, 154], "nice": false, "zero": false}, "axis": {"orient": "left", "values": [3, 5], "title": null}}}},
        {"data": {"name": "p3_ll"}, "mark": {"type": "point", "opacity": 0},
         "encoding": {
           "x": {"field": "R", "type": "quantitative", "scale": {"domain": [160, 210], "nice": false, "zero": false}, "axis": null},
           "y": {"field": "E", "type": "quantitative", "scale": {"domain": [1.94, 7.05], "range": [226.3, 154], "nice": false, "zero": false}, "axis": {"orient": "right", "values": [3, 5], "labels": false, "tickSize": -6, "title": null}}}},
        {"data": {"name": "one"}, "mark": {"type": "point", "shape": "M-1,0L1,0M0,-1L0,1M-0.7,-0.7L0.7,0.7M-0.7,0.7L0.7,-0.7", "size": 50, "filled": false, "stroke": "black", "strokeWidth": 1.6},
         "encoding": {"x": {"datum": 160, "type": "quantitative", "scale": {"domain": [160, 210], "nice": false, "zero": false}, "axis": null}, "y": {"datum": 1.94, "type": "quantitative", "scale": {"domain": [1.94, 7.05], "range": [226.3, 154], "nice": false, "zero": false}, "axis": null}}},
        {"data": {"name": "one"}, "mark": {"type": "point", "shape": "M-1,0L1,0M0,-1L0,1M-0.7,-0.7L0.7,0.7M-0.7,0.7L0.7,-0.7", "size": 50, "filled": false, "stroke": "black", "strokeWidth": 1.6},
         "encoding": {"x": {"datum": 210, "type": "quantitative", "scale": {"domain": [160, 210], "nice": false, "zero": false}, "axis": null}, "y": {"datum": 1.94, "type": "quantitative", "scale": {"domain": [1.94, 7.05], "range": [226.3, 154], "nice": false, "zero": false}, "axis": null}}},
        {"data": {"name": "one"}, "mark": {"type": "text", "text": "E", "font": "DejaVu Sans", "fontSize": 13, "fontWeight": "bold", "align": "left", "baseline": "alphabetic"},
         "encoding": {"x": {"datum": 184.6, "type": "quantitative", "scale": {"domain": [160, 210], "nice": false, "zero": false}, "axis": null}, "y": {"datum": 4.43, "type": "quantitative", "scale": {"domain": [1.94, 7.05], "range": [226.3, 154], "nice": false, "zero": false}, "axis": null}}},
        {"data": {"name": "one"}, "mark": {"type": "text", "text": "L-L", "font": "DejaVu Sans", "fontSize": 8, "fontWeight": "bold", "align": "left", "baseline": "alphabetic", "dx": 10, "dy": 4},
         "encoding": {"x": {"datum": 184.6, "type": "quantitative", "scale": {"domain": [160, 210], "nice": false, "zero": false}, "axis": null}, "y": {"datum": 4.43, "type": "quantitative", "scale": {"domain": [1.94, 7.05], "range": [226.3, 154], "nice": false, "zero": false}, "axis": null}}},

        {"data": {"name": "p3_ml"}, "mark": {"type": "line", "color": "black", "strokeWidth": 3.5, "interpolate": "monotone"},
         "encoding": {
           "x": {"field": "R", "type": "quantitative", "scale": {"domain": [160, 210], "nice": false, "zero": false}, "axis": null},
           "y": {"field": "E", "type": "quantitative", "scale": {"domain": [-105.52, -95.04], "range": [372.5, 226.3], "nice": false, "zero": false}, "axis": {"orient": "left", "values": [-96, -98, -100, -102, -104], "title": null, "labelExpr": "indexof([-96,-100,-104], datum.value) >= 0 ? toString(datum.value) : ''"}}}},
        {"data": {"name": "p3_ml"}, "mark": {"type": "point", "opacity": 0},
         "encoding": {
           "x": {"field": "R", "type": "quantitative", "scale": {"domain": [160, 210], "nice": false, "zero": false}, "axis": null},
           "y": {"field": "E", "type": "quantitative", "scale": {"domain": [-105.52, -95.04], "range": [372.5, 226.3], "nice": false, "zero": false}, "axis": {"orient": "right", "values": [-96, -98, -100, -102, -104], "labels": false, "tickSize": -6, "title": null}}}},
        {"data": {"name": "one"}, "mark": {"type": "point", "shape": "M-1,0L1,0M0,-1L0,1M-0.7,-0.7L0.7,0.7M-0.7,0.7L0.7,-0.7", "size": 50, "filled": false, "stroke": "black", "strokeWidth": 1.6},
         "encoding": {"x": {"datum": 160, "type": "quantitative", "scale": {"domain": [160, 210], "nice": false, "zero": false}, "axis": null}, "y": {"datum": -105.52, "type": "quantitative", "scale": {"domain": [-105.52, -95.04], "range": [372.5, 226.3], "nice": false, "zero": false}, "axis": null}}},
        {"data": {"name": "one"}, "mark": {"type": "point", "shape": "M-1,0L1,0M0,-1L0,1M-0.7,-0.7L0.7,0.7M-0.7,0.7L0.7,-0.7", "size": 50, "filled": false, "stroke": "black", "strokeWidth": 1.6},
         "encoding": {"x": {"datum": 210, "type": "quantitative", "scale": {"domain": [160, 210], "nice": false, "zero": false}, "axis": null}, "y": {"datum": -105.52, "type": "quantitative", "scale": {"domain": [-105.52, -95.04], "range": [372.5, 226.3], "nice": false, "zero": false}, "axis": null}}},
        {"data": {"name": "one"}, "mark": {"type": "text", "text": "E", "font": "DejaVu Sans", "fontSize": 13, "fontWeight": "bold", "align": "left", "baseline": "alphabetic"},
         "encoding": {"x": {"datum": 184.6, "type": "quantitative", "scale": {"domain": [160, 210], "nice": false, "zero": false}, "axis": null}, "y": {"datum": -101.76, "type": "quantitative", "scale": {"domain": [-105.52, -95.04], "range": [372.5, 226.3], "nice": false, "zero": false}, "axis": null}}},
        {"data": {"name": "one"}, "mark": {"type": "text", "text": "M-L", "font": "DejaVu Sans", "fontSize": 8, "fontWeight": "bold", "align": "left", "baseline": "alphabetic", "dx": 10, "dy": 4},
         "encoding": {"x": {"datum": 184.6, "type": "quantitative", "scale": {"domain": [160, 210], "nice": false, "zero": false}, "axis": null}, "y": {"datum": -101.76, "type": "quantitative", "scale": {"domain": [-105.52, -95.04], "range": [372.5, 226.3], "nice": false, "zero": false}, "axis": null}}},

        {"data": {"name": "p3_t"}, "mark": {"type": "line", "color": "black", "strokeWidth": 3.5, "interpolate": "monotone"},
         "encoding": {
           "x": {"field": "R", "type": "quantitative", "scale": {"domain": [160, 210], "nice": false, "zero": false}, "axis": {"orient": "bottom", "values": [170, 180, 190, 200], "tickSize": -6, "labelExpr": "indexof([170,190], datum.value) >= 0 ? toString(datum.value) : ''", "title": "R\u2091/pm", "titleX": 100, "titleY": 26, "titleAlign": "left", "titleBaseline": "alphabetic", "titleFont": "Roboto", "titleFontSize": 26, "titleFontWeight": "normal", "titleColor": "black"}},
           "y": {"field": "E", "type": "quantitative", "scale": {"domain": [-4280.99, -4270.48], "range": [519, 372.5], "nice": false, "zero": false}, "axis": {"orient": "left", "values": [-4271, -4273, -4275, -4277, -4279], "title": null, "labelExpr": "indexof([-4271,-4275,-4279], datum.value) >= 0 ? '-' + floor(abs(datum.value)/1000) + ' ' + substring(toString(abs(datum.value)), 1) : ''"}}}},
        {"data": {"name": "p3_t"}, "mark": {"type": "point", "opacity": 0},
         "encoding": {
           "x": {"field": "R", "type": "quantitative", "scale": {"domain": [160, 210], "nice": false, "zero": false}, "axis": null},
           "y": {"field": "E", "type": "quantitative", "scale": {"domain": [-4280.99, -4270.48], "range": [519, 372.5], "nice": false, "zero": false}, "axis": {"orient": "right", "values": [-4271, -4273, -4275, -4277, -4279], "labels": false, "tickSize": -6, "title": null}}}},
        {"data": {"name": "one"}, "mark": {"type": "text", "text": "E", "font": "DejaVu Sans", "fontSize": 13, "fontWeight": "bold", "align": "left", "baseline": "alphabetic"},
         "encoding": {"x": {"datum": 183.2, "type": "quantitative", "scale": {"domain": [160, 210], "nice": false, "zero": false}, "axis": null}, "y": {"datum": -4277.83, "type": "quantitative", "scale": {"domain": [-4280.99, -4270.48], "range": [519, 372.5], "nice": false, "zero": false}, "axis": null}}},
        {"data": {"name": "one"}, "mark": {"type": "text", "text": "T", "font": "DejaVu Sans", "fontSize": 8, "fontWeight": "bold", "align": "left", "baseline": "alphabetic", "dx": 10, "dy": 4},
         "encoding": {"x": {"datum": 183.2, "type": "quantitative", "scale": {"domain": [160, 210], "nice": false, "zero": false}, "axis": null}, "y": {"datum": -4277.83, "type": "quantitative", "scale": {"domain": [-4280.99, -4270.48], "range": [519, 372.5], "nice": false, "zero": false}, "axis": null}}}
      ]
    }
  ]
}
